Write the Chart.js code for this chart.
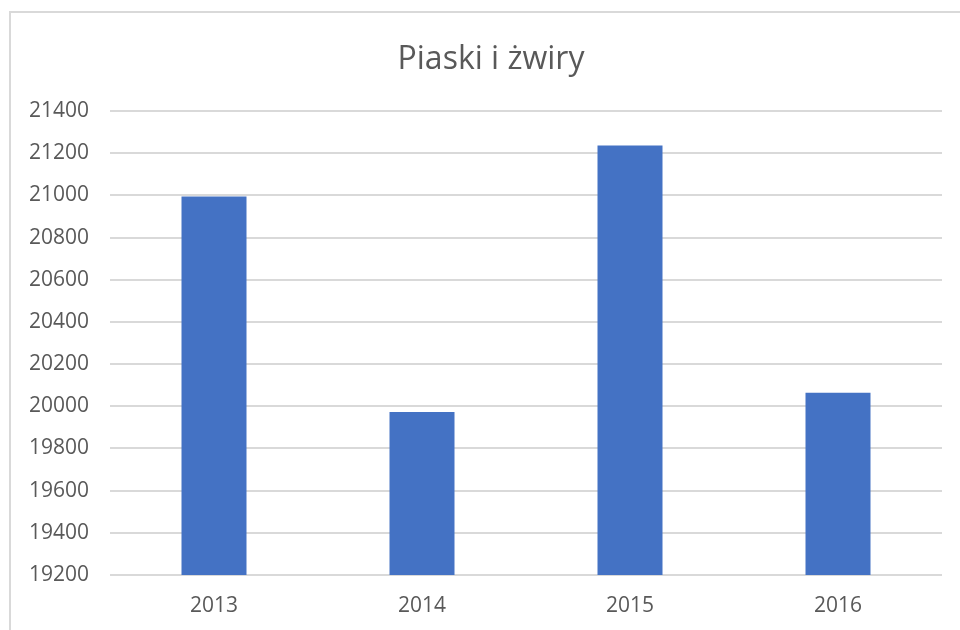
<!DOCTYPE html>
<html>
<head>
<meta charset="utf-8">
<script src="https://cdn.jsdelivr.net/npm/chart.js@4/dist/chart.umd.min.js"></script>
<style>
  html, body { margin: 0; padding: 0; background: #ffffff; }
  #wrap { position: relative; width: 960px; height: 630px; overflow: hidden; background: #ffffff; }
  #frame { position: absolute; left: 9px; top: 11px; width: 1000px; height: 700px; border: 2px solid #d9d9d9; box-sizing: border-box; }
  #c { position: absolute; left: 0; top: 0; }
</style>
</head>
<body>
<div id="wrap">
  <div id="frame"></div>
  <canvas id="c" width="982" height="630"></canvas>
</div>
<script>
const chartTitle = "Piaski i żwiry";
const categories = ["2013", "2014", "2015", "2016"];
const values = [20995, 19973, 21236, 20064];
const yMin = 19200;
const yMax = 21400;
const yStep = 200;

const textColor = "#595959";
const fontFamily = "'Open Sans', 'Noto Sans', sans-serif";

new Chart(document.getElementById("c"), {
  type: "bar",
  data: {
    labels: categories,
    datasets: [{
      label: chartTitle,
      data: values,
      backgroundColor: "#4472C4",
      borderWidth: 0,
      barPercentage: 0.3125,
      categoryPercentage: 1.0
    }]
  },
  options: {
    responsive: false,
    animation: false,
    devicePixelRatio: 1,
    layout: { padding: 0 },
    plugins: {
      legend: { display: false },
      tooltip: { enabled: false },
      title: {
        display: true,
        text: chartTitle,
        color: textColor,
        font: { family: fontFamily, size: 32, weight: "normal" },
        padding: { top: 41, bottom: 31.6 }
      }
    },
    scales: {
      x: {
        grid: { display: false, drawTicks: false },
        border: { display: false },
        ticks: {
          color: textColor,
          font: { family: fontFamily, size: 21 },
          padding: 18,
          maxRotation: 0
        },
        afterFit: (s) => { s.height = 55; }
      },
      y: {
        min: yMin,
        max: yMax,
        grid: { color: "#d9d9d9", lineWidth: 2, drawTicks: false },
        border: { display: false },
        ticks: {
          stepSize: yStep,
          color: textColor,
          font: { family: fontFamily, size: 21 },
          padding: 21,
          callback: (v) => String(v)
        },
        afterFit: (s) => { s.width = 110; }
      },
      yRightSpace: {
        position: "right",
        display: true,
        grid: { display: false, drawTicks: false },
        border: { display: false },
        ticks: { display: false },
        afterFit: (s) => { s.width = 40; }
      }
    }
  }
});
</script>
</body>
</html>
